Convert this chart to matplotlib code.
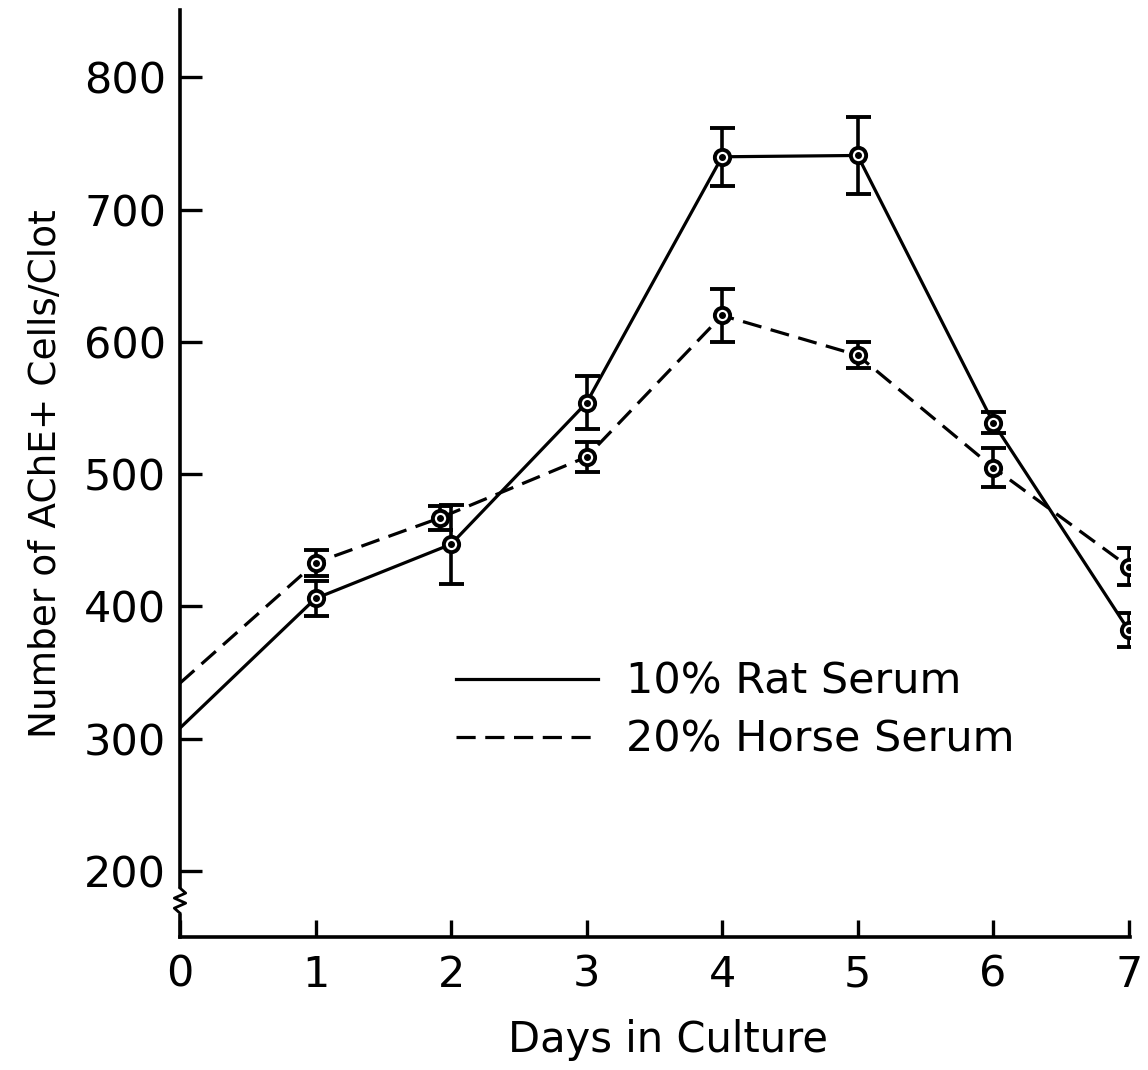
import numpy as np
import matplotlib
matplotlib.use("Agg")
import matplotlib.pyplot as plt
from matplotlib.lines import Line2D
import matplotlib.transforms as mtransforms

# ACHE+ cell counts per clot over time in culture
days = [0, 1, 2, 3, 4, 5, 6, 7]
rat_days = [0, 1, 2, 3, 4, 5, 6, 7]
rat_mean = [308, 406, 447, 554, 740, 741, 539, 382]
rat_err = [0, 13, 30, 20, 22, 29, 8, 13]

horse_days = [0, 1, 1.92, 3, 4, 5, 6, 7]
horse_mean = [342, 433, 467, 513, 620, 590, 505, 430]
horse_err = [0, 10, 9, 11, 20, 10, 15, 14]

yticks = [200, 300, 400, 500, 600, 700, 800]
labels = ["10% Rat Serum", "20% Horse Serum"]

W, H = 1148, 1070
fig = plt.figure(figsize=(W / 100, H / 100), dpi=100)
ax = fig.add_axes([180 / W, (H - 937) / H, (1130 - 180) / W, (937 - 10) / H])

lw = 2.3
dash = (6, 3)

def draw(x, y, e, ls):
    x = np.array(x); y = np.array(y); e = np.array(e)
    kw = dict(color="black", lw=lw)
    if ls == "--":
        ax.plot(x, y, dashes=dash, **kw)
    else:
        ax.plot(x, y, **kw)
    m = e > 0
    ax.errorbar(x[m], y[m], yerr=e[m], fmt="none", ecolor="black",
                elinewidth=2.6, capsize=9, capthick=2.8)
    ax.plot(x[1:], y[1:], "o", ms=11, mfc="white", mec="black", mew=2.8)
    ax.plot(x[1:], y[1:], "o", ms=4, color="black")

draw(rat_days, rat_mean, rat_err, "-")
draw(horse_days, horse_mean, horse_err, "--")

ax.set_xlim(0, 7.01)
ax.set_ylim(150, 851)
ax.set_xticks(days)
ax.set_yticks(yticks)
for s in ["top", "right"]:
    ax.spines[s].set_visible(False)
for s in ["left", "bottom"]:
    ax.spines[s].set_linewidth(2.6)

font = "DejaVu Sans"
ax.tick_params(axis="y", direction="in", length=16, width=2.4, pad=10,
               labelsize=31)
ax.tick_params(axis="x", direction="in", length=12, width=2.4, pad=12,
               labelsize=31)
for t in ax.get_xticklabels() + ax.get_yticklabels():
    t.set_fontfamily(font)

ax.set_xlabel("Days in Culture", fontsize=30, family=font)
ax.xaxis.set_label_coords(0.514, -0.111)
ax.xaxis.label.set_va("center")
ax.set_ylabel("Number of AChE+ Cells/Clot", fontsize=27, labelpad=14,
              family=font)

# axis break on the y axis below 200
tr = mtransforms.blended_transform_factory(ax.transAxes, ax.transData)
ax.plot([0, 0], [185, 170], color="white", lw=4, transform=tr,
        clip_on=False, zorder=5)
zx = np.array([0, 0.006, -0.006, 0.006, -0.006, 0])
zy = np.linspace(187, 168, len(zx))
ax.plot(zx, zy, color="black", lw=2, transform=tr, clip_on=False, zorder=6)

handles = [Line2D([], [], color="black", lw=lw),
           Line2D([], [], color="black", lw=lw, dashes=dash)]
leg = ax.legend(handles, labels, loc="center left",
                bbox_to_anchor=(0.268, 0.244), frameon=False,
                fontsize=31, handlelength=3.3, handletextpad=0.65,
                labelspacing=0.38, borderpad=0)
for t in leg.get_texts():
    t.set_fontfamily(font)

fig.savefig("out.png", dpi=100)
